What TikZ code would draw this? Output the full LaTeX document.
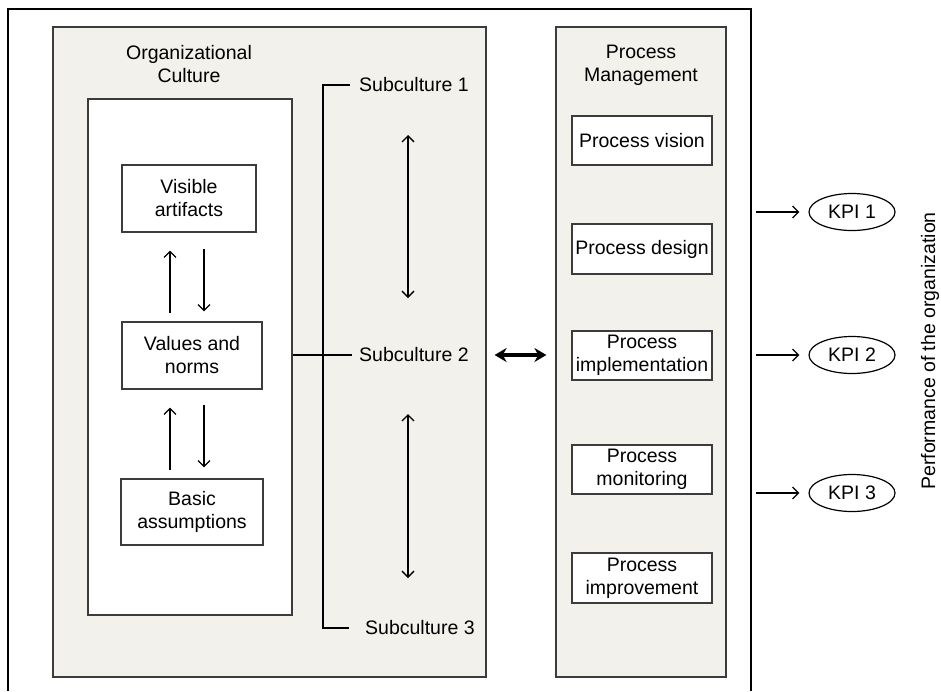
\documentclass[tikz,border=0pt]{standalone}
\usepackage{fontspec}
\setmainfont{Liberation Sans}
\usetikzlibrary{arrows.meta,shapes.geometric}
\definecolor{panelfill}{RGB}{242,241,235}
\definecolor{edgegray}{RGB}{60,60,60}
\begin{document}
\begin{tikzpicture}[x=1pt,y=-1pt,
  every node/.style={font=\fontsize{19.5}{23}\selectfont},
  panel/.style={draw=edgegray,line width=1.2pt,fill=panelfill,inner sep=0pt},
  boxnode/.style={draw=edgegray,line width=1.2pt,fill=white,align=center,inner sep=0pt},
  txt/.style={inner sep=0pt,align=center},
  conn/.style={line width=1.1pt,draw=black},
  arr/.style={line width=1.2pt,-{Straight Barb[length=6pt,width=12pt]}},
  darr/.style={line width=1.3pt,{Straight Barb[length=6pt,width=12pt]}-{Straight Barb[length=6pt,width=12pt]}},
  bigarr/.style={line width=3.2pt,{Stealth[length=12pt,width=14pt]}-{Stealth[length=12pt,width=14pt]}},
  kpi/.style={ellipse,draw,line width=1.2pt,minimum width=86pt,minimum height=37pt,inner sep=0pt}]
\useasboundingbox (0,0) rectangle (941,691);
% outer frame
\draw[line width=2pt] (8,691) -- (8,9) -- (751,9) -- (751,691);
% panels
\node[panel,minimum width=433pt,minimum height=650pt] (oc) at (269.5,352) {};
\node[panel,minimum width=170pt,minimum height=650pt] (pm) at (641,352) {};
\node[boxnode,minimum width=204pt,minimum height=516pt] (inner) at (190,357) {};
% titles
\node[txt] (octitle) at (189,64.5) {Organizational\\Culture};
\node[txt] (pmtitle) at (641,65) {Process\\Management};
% culture levels
\node[boxnode,minimum width=134pt,minimum height=67pt] (va) at (189,198.5) {Visible\\artifacts};
\node[boxnode,minimum width=140pt,minimum height=67pt] (vn) at (192,355.5) {Values and\\norms};
\node[boxnode,minimum width=142pt,minimum height=66pt] (ba) at (192,512) {Basic\\assumptions};
\draw[arr,shorten <=8pt,shorten >=18pt] ([xshift=-22pt]vn.north) -- ([xshift=-22pt]vn.north |- va.south);
\draw[arr,shorten <=16pt,shorten >=10pt] ([xshift=12pt]vn.north |- va.south) -- ([xshift=12pt]vn.north);
\draw[arr,shorten <=8pt,shorten >=18pt] ([xshift=-22pt]ba.north) -- ([xshift=-22pt]ba.north |- vn.south);
\draw[arr,shorten <=15pt,shorten >=11pt] ([xshift=12pt]ba.north |- vn.south) -- ([xshift=12pt]ba.north);
% subcultures
\node[txt,anchor=west] (s1) at (359,85) {Subculture 1};
\node[txt,anchor=west] (s2) at (359,355) {Subculture 2};
\node[txt,anchor=west] (s3) at (365,628) {Subculture 3};
\coordinate (bt) at (323,85);
\coordinate (bb) at (323,628);
\coordinate (ax) at (408,0);
\draw[conn] ([xshift=-9pt]s1.west) -- (s1.west -| bt) -- (s3.west -| bb) -- ([xshift=-16pt]s3.west);
\draw[conn] (inner.east |- s2.west) -- ([xshift=-7pt]s2.west);
\draw[darr,shorten <=50pt,shorten >=57pt] (ax |- s1.west) -- (ax |- s2.west);
\draw[darr,shorten <=59pt,shorten >=50pt] (ax |- s2.west) -- (ax |- s3.west);
\draw[bigarr,shorten <=8pt,shorten >=9pt] (oc.east |- s2.west) -- (pm.west |- s2.west);
% process management
\node[boxnode,minimum width=140pt,minimum height=49pt] (pv) at (642,140.5) {Process vision};
\node[boxnode,minimum width=140pt,minimum height=50pt] (pd) at (642,249) {Process design};
\node[boxnode,minimum width=140pt,minimum height=49pt] (pi) at (642,355.5) {Process\\implementation};
\node[boxnode,minimum width=140pt,minimum height=49pt] (pmo) at (642,469.5) {Process\\monitoring};
\node[boxnode,minimum width=140pt,minimum height=50pt] (pim) at (642,578) {Process\\improvement};
% KPIs
\node[kpi] (k1) at (852,212) {KPI 1};
\node[kpi] (k2) at (852,355) {KPI 2};
\node[kpi] (k3) at (852,493) {KPI 3};
\draw[arr,shorten >=9pt] ([xshift=-52pt]k1.west) -- (k1.west);
\draw[arr,shorten >=9pt] ([xshift=-52pt]k2.west) -- (k2.west);
\draw[arr,shorten >=9pt] ([xshift=-52pt]k3.west) -- (k3.west);
\node[txt,rotate=90] (perf) at (930,351) {Performance of the organization};
\end{tikzpicture}
\end{document}
